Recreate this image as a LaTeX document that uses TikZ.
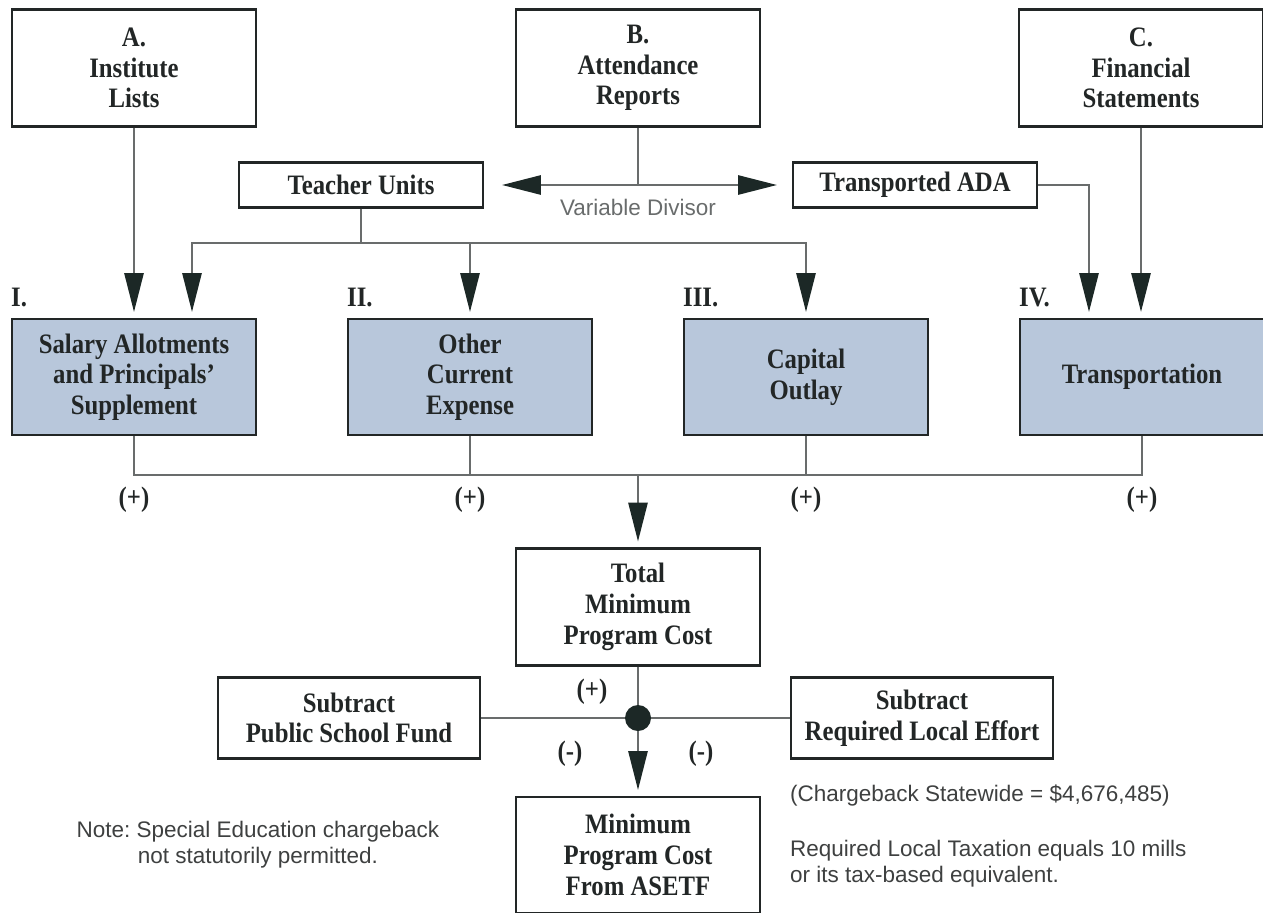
\documentclass[tikz,border=0pt]{standalone}
\usepackage{fontspec}
\newfontfamily\boxfont{Liberation Serif}[FakeStretch=0.88]
\newfontfamily\notefont{Liberation Sans}
\usetikzlibrary{positioning,arrows.meta}
\frenchspacing

\definecolor{boxline}{RGB}{34,38,38}
\definecolor{linkgray}{RGB}{105,108,108}
\definecolor{tipdark}{RGB}{28,40,38}
\definecolor{costblue}{RGB}{184,199,219}
\definecolor{notegray}{RGB}{62,64,64}

\tikzstyle{src}  = [rectangle, minimum width=4.88cm, minimum height=2.34cm, align=center, inner sep=0pt, draw=boxline, line width=1.3pt, fill=white, text=boxline, font=\boxfont\bfseries\fontsize{16}{17.5}\selectfont]
\tikzstyle{cost} = [src, minimum height=2.32cm, fill=costblue]
\tikzstyle{bar}  = [src, minimum height=0.9cm]
\tikzstyle{sub}  = [src, minimum width=5.24cm, minimum height=1.62cm]
\tikzstyle{tag}  = [inner sep=0pt, text=boxline, font=\boxfont\bfseries\fontsize{16}{17.5}\selectfont]
\tikzstyle{note} = [inner sep=0pt, align=center, text=notegray, font=\notefont\fontsize{12.8}{14.8}\selectfont]
\tikzstyle{link} = [draw=linkgray, line width=0.8pt]
\tikzstyle{arrow} = [link, -{Triangle[length=22pt, width=11pt, color=tipdark]}, shorten >=0.12cm]

\begin{document}
\begin{tikzpicture}[node distance=6.72cm]
\useasboundingbox (-2.68,1.36) rectangle (22.58,-16.88);

%% Sources
\node (A) [src] {A.\\Institute\\Lists};
\node (B) [src, right of=A, xshift=3.36cm] {B.\\Attendance\\Reports};
\node (C) [src, right of=B, xshift=3.34cm] {C.\\Financial\\Statements};

\node (tu)   [bar, below of=B, node distance=2.34cm, xshift=-5.54cm] {Teacher Units};
\node (tada) [bar, below of=B, node distance=2.34cm, xshift=5.54cm] {Transported ADA};
\node (split) [coordinate] at (B |- tu) {};
\node (vd) [note, below of=split, node distance=0.44cm, text=linkgray] {Variable Divisor};
\node (tubus) [coordinate, below of=tu, node distance=1.16cm] {};

%% Cost components
\node (I)   [cost, below of=A, yshift=0.54cm] {Salary Allotments\\and Principals’\\Supplement};
\node (II)  [cost, right of=I] {Other\\Current\\Expense};
\node (III) [cost, right of=II] {Capital\\Outlay};
\node (IV)  [cost, right of=III] {Transportation};

\node (n1) [tag, anchor=south west] at ([yshift=0.22cm]I.north west) {I.};
\node (n2) [tag, anchor=south west] at ([yshift=0.22cm]II.north west) {II.};
\node (n3) [tag, anchor=south west] at ([yshift=0.22cm]III.north west) {III.};
\node (n4) [tag, anchor=south west] at ([yshift=0.22cm]IV.north west) {IV.};

\node (sumI) [coordinate, below of=I, node distance=1.96cm] {};
\node (s1) [tag, below of=I, node distance=2.46cm] {(+)};
\node (s2) [tag, below of=II, node distance=2.46cm] {(+)};
\node (s3) [tag, below of=III, node distance=2.46cm] {(+)};
\node (s4) [tag, below of=IV, node distance=2.46cm] {(+)};

%% Totals
\node (total) [src, below of=B, node distance=10.78cm] {Total\\Minimum\\Program Cost};
\node (dot) [circle, fill=tipdark, minimum size=0.52cm, inner sep=0pt, below of=total, node distance=2.22cm] {};
\node (psf) [sub, left of=dot, node distance=5.78cm] {Subtract\\Public School Fund};
\node (rle) [sub, right of=dot, node distance=5.68cm] {Subtract\\Required Local Effort};
\node (asetf) [cost, fill=white, below of=dot, node distance=2.74cm] {Minimum\\Program Cost\\From ASETF};

\node (sp) [tag, above of=dot, node distance=0.52cm, xshift=-0.92cm] {(+)};
\node (sm1) [tag, below of=dot, node distance=0.72cm, xshift=-1.36cm] {(-)};
\node (sm2) [tag, below of=dot, node distance=0.72cm, xshift=1.26cm] {(-)};

%% Notes
\node (nb) [note, below of=psf, node distance=2.54cm, xshift=-1.82cm] {Note: Special Education chargeback\\not statutorily permitted.};
\node (cb) [note, anchor=west] at ([yshift=-1.54cm]rle.west) {(Chargeback Statewide = \$4,676,485)};
\node (tax) [note, anchor=west, align=left] at ([yshift=-2.92cm]rle.west) {Required Local Taxation equals 10 mills\\or its tax-based equivalent.};

%% Arrows
\draw [link] (B) -- (split);
\draw [arrow, shorten >=0.36cm] (split) -- (tu);
\draw [arrow, shorten >=0.3cm] (split) -- (tada);

\draw [arrow] (A) -- (I);
\draw [link] (tu) -- (tubus);
\draw [arrow] (tubus) -| ([xshift=1.16cm]I.north);
\draw [arrow] (tubus) -| (II);
\draw [arrow] (tubus) -| (III);
\draw [arrow] (tada) -| ([xshift=-1.06cm]IV.north);
\draw [arrow] (C) -- (C |- IV.north);

\draw [link] (I) -- (sumI) -- (sumI -| IV) -- (IV);
\draw [link] (II) -- (II |- sumI);
\draw [link] (III) -- (III |- sumI);
\draw [arrow] (sumI -| total) -- (total);

\draw [link] (total) -- (dot);
\draw [link] (psf) -- (dot);
\draw [link] (rle) -- (dot);
\draw [arrow] (dot) -- (asetf);
\end{tikzpicture}
\end{document}
